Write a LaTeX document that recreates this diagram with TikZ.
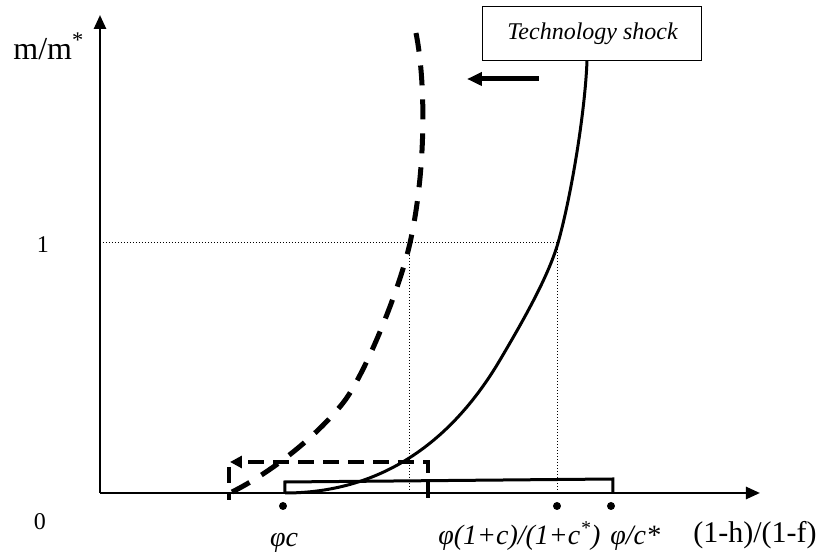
\documentclass[tikz,border=0pt]{standalone}
\usepackage{fontspec}
\setmainfont{Liberation Serif}
\usetikzlibrary{arrows.meta}
\begin{document}
\begin{tikzpicture}[x=0.5pt, y=0.5pt,
  axis/.style={line width=1.3pt, -{Triangle[length=7pt,width=6pt]}},
  guide/.style={densely dotted, line width=0.5pt},
  big/.style={font=\fontsize{16}{18}\selectfont, inner sep=0pt},
  lab/.style={font=\fontsize{14}{16}\selectfont\itshape, inner sep=0pt},
  small/.style={font=\fontsize{12}{14}\selectfont}]
  \useasboundingbox (-100,-64) rectangle (727,493);
  % axes
  \coordinate (O) at (0,0);
  \coordinate (xend) at (660,0);
  \coordinate (yend) at (0,478);
  \draw[axis] (O) -- (xend);
  \draw[axis] (O) -- (yend);
  \node[big, anchor=base west] (ylab) at (-87,433) {m/m\textsuperscript{*}};
  \node[big, font=\fontsize{15}{18}\selectfont, anchor=base west] (xlab) at (593,-50) {(1-h)/(1-f)};
  \node[small] (one) at (-57,248) {1};
  \node[small] (zero) at (-60,-29) {0};
  % level 1 and the two crossings
  \coordinate (y1) at (0,250);
  \coordinate (pnew) at (310,250);
  \coordinate (pold) at (458,250);
  \draw[guide] (y1) -- (pold);
  \draw[guide] (pnew) -- (310,0);
  \draw[guide] (pold) -- (458,0);
  % curves
  \draw[line width=1.5pt] (185,0) .. controls (270,0) and (345,40) .. (400,133)
    .. controls (420,167) and (448,215) .. (pold)
    .. controls (471,296) and (485,380) .. (487,432);
  \draw[line width=2.5pt, dash pattern=on 10pt off 7pt] (132,1) .. controls (170,20) and (215,55) .. (243,90)
    .. controls (265,118) and (300,205) .. (pnew)
    .. controls (326,322) and (326,410) .. (316,460);
  % shock
  \node[draw, line width=0.5pt, minimum width=109.5pt, minimum height=27pt, font=\fontsize{12}{14}\selectfont\itshape] (shock) at (492.5,459) {Technology shock};
  \draw[line width=2.5pt, -{Triangle[length=7.5pt,width=6.5pt]}] (439,414) -- (367,414);
  % ranges on the axis
  \draw[line width=1.5pt] (185,0) -- (185,11) -- (513,14) -- (513,0);
  \draw[line width=2pt, dash pattern=on 8pt off 4.5pt, -{Triangle[length=6pt,width=6pt]}] (328,-5) |- (130,31);
  \draw[line width=2pt, dash pattern=on 8pt off 4.5pt] (129,26) -- (129,-7);
  \fill (183,-13) circle[radius=2pt];
  \fill (457,-13) circle[radius=2pt];
  \fill (511,-13) circle[radius=2pt];
  \node[lab, anchor=base] (phic) at (184,-54) {φc};
  \node[lab, anchor=base west] (mid) at (338,-52) {φ(1+c)/(1+c\textsuperscript{*})};
  \node[lab, anchor=base west] (phistar) at (510,-52) {φ/c*};
\end{tikzpicture}
\end{document}
